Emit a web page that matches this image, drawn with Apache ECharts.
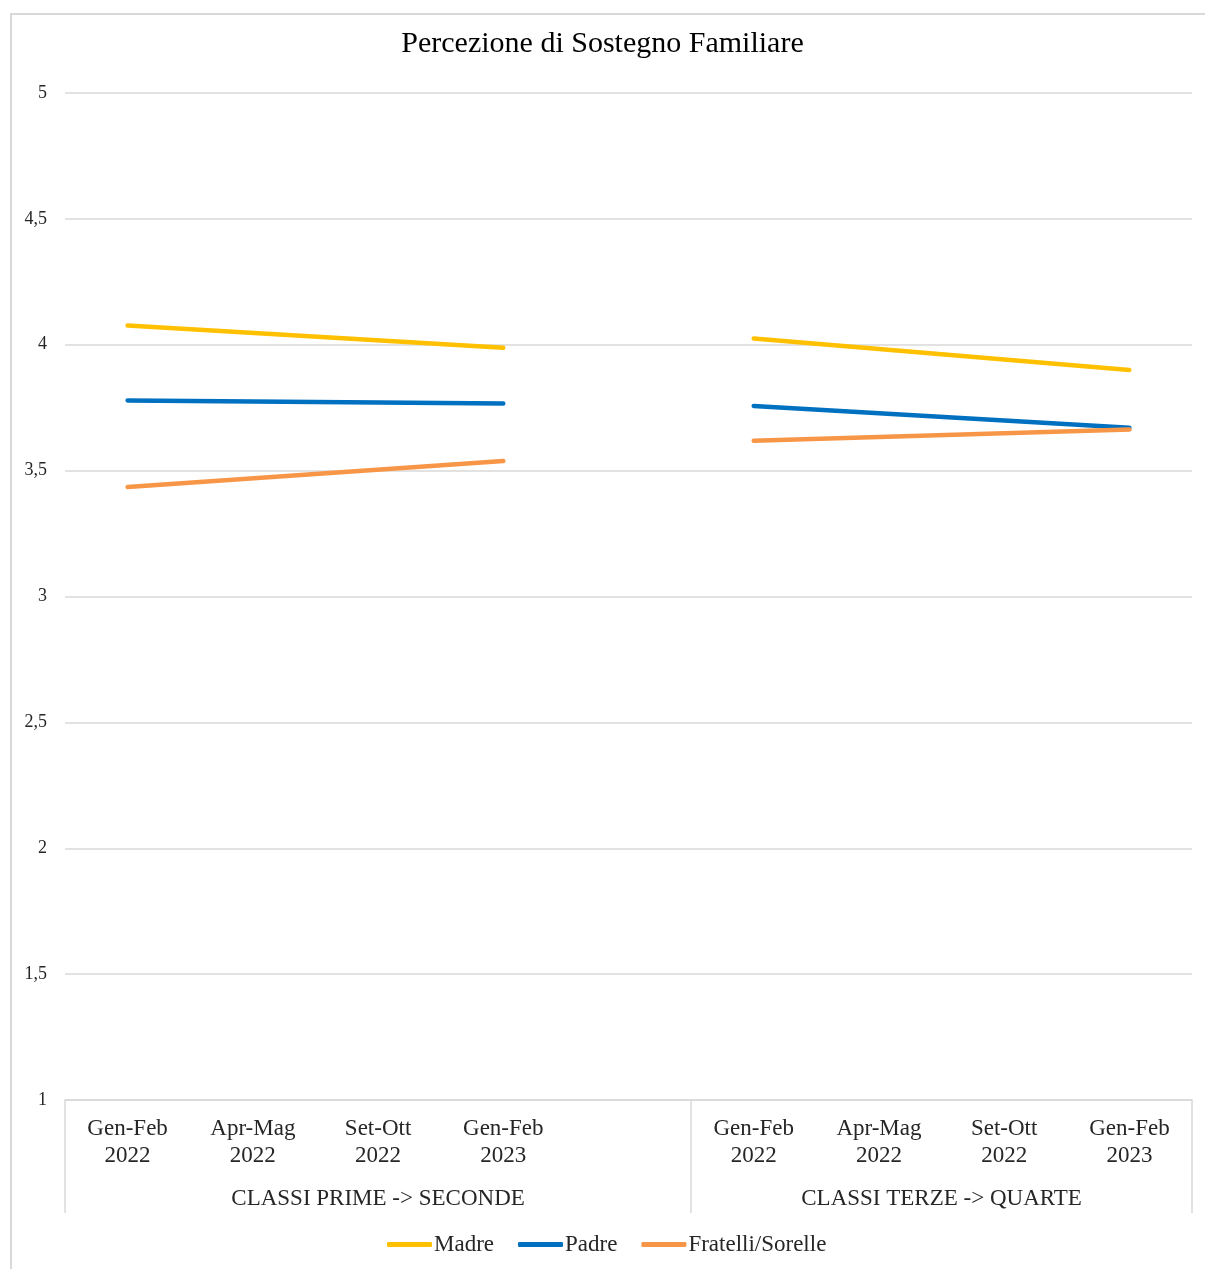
<!DOCTYPE html>
<html>
<head>
<meta charset="utf-8">
<script src="https://cdn.jsdelivr.net/npm/echarts@6/dist/echarts.min.js"></script>
<style>
  html, body { margin: 0; padding: 0; background: #fff; }
  #frame { position: absolute; left: 10px; top: 13px; width: 1220px; height: 1280px;
           border: 2px solid #d9d9d9; box-sizing: border-box; }
  #chart { position: absolute; left: 0; top: 0; width: 1205px; height: 1269px; }
</style>
</head>
<body>
<div id="frame"></div>
<div id="chart"></div>
<script>
// Survey periods; the empty slot separates the two class groups
const categories = [
  'Gen-Feb\n2022', 'Apr-Mag\n2022', 'Set-Ott\n2022', 'Gen-Feb\n2023', '',
  'Gen-Feb\n2022', 'Apr-Mag\n2022', 'Set-Ott\n2022', 'Gen-Feb\n2023'
];
const groupNames = ['CLASSI PRIME -> SECONDE', 'CLASSI TERZE -> QUARTE'];
const groupBounds = [0, 5, 9];          // category boundaries of each group
const groupCenters = [2.5, 7];          // label positions on the group axis

// Mean perceived support (1-5 scale); only the first and last survey of each group
const madre    = [4.076, null, null, 3.988, null, 4.025, null, null, 3.900];
const padre    = [3.779, null, null, 3.767, null, 3.757, null, null, 3.670];
const fratelli = [3.435, null, null, 3.538, null, 3.619, null, null, 3.663];

const yTicks = { min: 1, max: 5, step: 0.5 };

const FONT = '"Liberation Serif", "Times New Roman", serif';
const TEXT = '#262626';
const GRID = '#d9d9d9';

// each group is drawn as its own segment so the two groups stay disconnected
function split(values, from, to) {
  return values.map((v, i) => (i >= from && i < to ? v : null));
}
function makeSeries(name, values, color) {
  return [[0, 5], [5, 9]].map(([a, b]) => ({
    name, type: 'line', xAxisIndex: 0, yAxisIndex: 0,
    data: split(values, a, b), connectNulls: true,
    symbol: 'none', lineStyle: { color, width: 4.5, cap: 'round' },
    itemStyle: { color }
  }));
}

const chart = echarts.init(document.getElementById('chart'), null, { renderer: 'canvas' });
chart.setOption({
  backgroundColor: 'transparent',
  animation: false,
  title: {
    text: 'Percezione di Sostegno Familiare', left: 'center', top: 24,
    textStyle: { fontFamily: FONT, fontSize: 30, fontWeight: 'normal', color: '#000' }
  },
  legend: {
    bottom: 8, left: 382, itemGap: 24, itemWidth: 45, itemHeight: 5, icon: 'roundRect',
    data: ['Madre', 'Padre', 'Fratelli/Sorelle'],
    textStyle: { fontFamily: FONT, fontSize: 23, color: TEXT, padding: [0, 0, 0, -3] }
  },
  grid: { left: 65, right: 13, top: 93, bottom: 169 },
  xAxis: [
    {
      type: 'category', data: categories, boundaryGap: true, position: 'bottom',
      axisLine: { show: false }, axisTick: { show: false },
      axisLabel: { interval: 0, margin: 15, fontFamily: FONT, fontSize: 23, lineHeight: 27, color: TEXT }
    },
    {
      type: 'value', min: 0, max: 9, position: 'bottom', splitLine: { show: false },
      axisLine: { show: true, lineStyle: { color: GRID, width: 1.5 } },
      axisTick: { show: true, customValues: groupBounds, length: 113, lineStyle: { color: GRID, width: 1.5 } },
      axisLabel: {
        customValues: groupCenters, margin: 87, fontFamily: FONT, fontSize: 23, color: TEXT,
        formatter: v => groupNames[groupCenters.indexOf(v)] || ''
      }
    }
  ],
  yAxis: {
    type: 'value', min: yTicks.min, max: yTicks.max, interval: yTicks.step,
    axisLine: { show: false }, axisTick: { show: false },
    splitLine: { lineStyle: { color: GRID, width: 1.5 } },
    axisLabel: { margin: 18, fontFamily: FONT, fontSize: 18, color: TEXT,
                 formatter: v => String(v).replace('.', ',') }
  },
  series: [
    ...makeSeries('Madre', madre, '#ffc000'),
    ...makeSeries('Padre', padre, '#0070c0'),
    ...makeSeries('Fratelli/Sorelle', fratelli, '#f79646')
  ]
});
</script>
</body>
</html>
